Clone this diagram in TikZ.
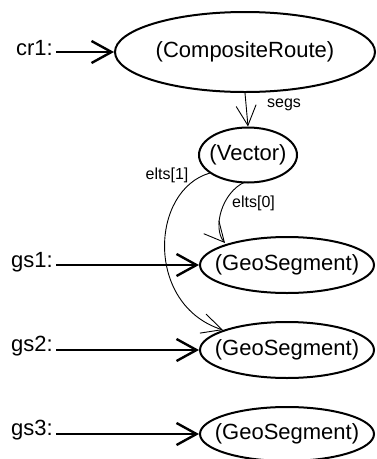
\documentclass[tikz,border=0pt]{standalone}
\usepackage{fontspec}
\setmainfont{Liberation Sans}
\usetikzlibrary{arrows.meta,shapes.geometric}
\begin{document}
\begin{tikzpicture}[x=1pt,y=-1pt,
  obj/.style={draw,ellipse,line width=2pt,inner sep=0pt,font=\fontsize{22}{26}\selectfont},
  lbl/.style={anchor=east,inner sep=3pt,font=\fontsize{22}{26}\selectfont},
  small/.style={inner sep=0pt,font=\fontsize{16}{19}\selectfont},
  ptr/.style={line width=2.4pt,-{Straight Barb[length=20pt,width=22pt]}},
  ref/.style={line width=0.9pt,-{Straight Barb[length=20pt,width=20pt]}}
]
\useasboundingbox (0,0) rectangle (377,459);
\node[obj,minimum width=260pt,minimum height=80pt] (cr) at (245,52) {\makebox[0pt]{(CompositeRoute)}};
\node[obj,minimum width=98pt,minimum height=55pt] (vec) at (248,155) {\makebox[0pt]{(Vector)}};
\node[obj,minimum width=174pt,minimum height=56pt] (g1) at (287,265) {\makebox[0pt]{(GeoSegment)}};
\node[obj,minimum width=174pt,minimum height=56pt] (g2) at (287,350) {\makebox[0pt]{(GeoSegment)}};
\node[obj,minimum width=174pt,minimum height=54pt] (g3) at (287,434) {\makebox[0pt]{(GeoSegment)}};
\node[lbl] (lcr) at (56,48) {cr1:};
\node[lbl] (lg1) at (56,262) {gs1:};
\node[lbl] (lg2) at (56,346) {gs2:};
\node[lbl] (lg3) at (56,430) {gs3:};
\draw[ptr] (lcr.east |- cr.west) -- (cr.west);
\draw[ptr] (lg1.east |- g1.west) -- (g1.west);
\draw[ptr] (lg2.east |- g2.west) -- (g2.west);
\draw[ptr] (lg3.east |- g3.west) -- (g3.west);
\draw[ref] (cr.south) -- (vec.north);
\node[small,anchor=west] (lsegs) at (267,105) {segs};
\coordinate (v0) at (245,182);
\coordinate (g1t) at (225,243);
\draw[ref] (v0) .. controls (222,192) and (212,228) .. (g1t);
\node[small,anchor=west] (le0) at (232,203) {elts[0]};
\coordinate (v1) at (210,173);
\coordinate (g2t) at (223,330);
\draw[ref] (v1) .. controls (150,190) and (145,305) .. (g2t);
\node[small] (le1) at (167,175) {elts[1]};
\end{tikzpicture}
\end{document}
